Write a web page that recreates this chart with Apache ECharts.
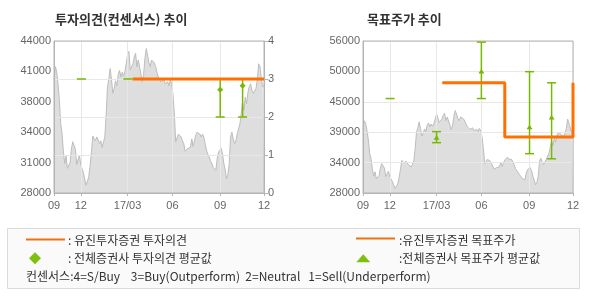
<!DOCTYPE html>
<html>
<head>
<meta charset="utf-8">
<script src="https://cdn.jsdelivr.net/npm/echarts@6/dist/echarts.min.js"></script>
<style>
html,body{margin:0;padding:0;background:#fff;}
#chart{width:590px;height:300px;}
</style>
</head>
<body>
<div id="chart"></div>
<script>
// ---- data ----
const xTickPos = [0, 20, 55, 88.5, 124.25, 157];
const xTickLabels = ['09', '12', '17/03', '06', '09', '12'];

const price = [
39800,41300,40800,39500,37800,35300,34300,32400,31100,31900,
30600,30700,31200,32600,33400,33300,32600,31000,31500,32000,
31000,30900,30100,30300,28800,28600,29700,30900,32300,34000,
33900,33500,33900,33600,33200,33500,32800,32700,33900,36200,
39200,40000,41100,39900,38500,39000,39800,39300,40500,40900,
40200,40700,40300,40800,41600,42600,42900,41000,41300,41600,
42300,42700,41300,42000,42100,40500,39700,40500,42200,43200,
43100,41700,41300,42000,42100,41700,41300,40700,40200,40000,
39700,39900,40000,39500,39300,39700,39300,39900,39500,38300,
36200,33400,33600,34200,34400,33900,33500,33200,32400,32500,
32700,32500,32800,33700,32900,33500,34100,34400,34600,34200,
33900,34200,33900,33200,32500,32100,31800,31400,31100,30700,
30900,30400,31600,32300,32100,32700,32100,31100,30400,29500,
29900,31100,33900,34400,33700,33200,33500,34200,34400,35300,
36400,37600,36700,38100,37400,38600,39200,39500,38800,38500,
38400,39000,39900,41600,41300,40000,39200,39200
];

const priceTicksLeft = ['28000', '31000', '34000', '38000', '41000', '44000'];
const opinionTicks = ['0', '1', '2', '3', '4'];
const priceTicksRight = ['28000', '34000', '39000', '45000', '50000', '56000'];

// Eugene opinion (x index, opinion)
const eugeneOpinion = [[58.75, 3], [157, 3]];
// consensus opinion: x index, low, high, average
const consensusOpinion = [
  [20.5, 3, 3, null],
  [55.25, 3, 3, null],
  [124.25, 2, 3, 2.72],
  [141, 2, 3, 2.82]
];
// Eugene target price (step line)
const eugeneTarget = [[59.25, 48300], [106, 48300], [106, 38300], [157, 38300], [157, 48300]];
// consensus target price: x index, low, high, average
const consensusTarget = [
  [20.25, 45400, 45400, null],
  [55, 37270, 39300, 38190],
  [88.5, 45400, 55800, 50400],
  [124.5, 35250, 50350, 40100],
  [141, 34300, 48300, 41900]
];

// ---- styles ----
const ORANGE = '#ff7000';
const GREEN = '#76b900';
const GRIDC = '#e8e8e8';
const AXISC = '#b4b4b4';
const LBL = {color: '#666', fontSize: 11, fontFamily: 'Liberation Sans'};
const KR = 'Noto Sans CJK KR';

const priceData = price.map((v, i) => [i, v]);
const toDash = arr => arr.map(r => r.map(v => (v === null ? '-' : v)));

function errorBarRender(markerType) {
  return function (params, api) {
    const x = api.value(0), lo = api.value(1), hi = api.value(2), avg = api.value(3);
    const pl = api.coord([x, lo]);
    const ph = api.coord([x, hi]);
    const hw = 4.5;
    const st = {stroke: GREEN, lineWidth: 1.5};
    const children = [];
    if (Math.abs(pl[1] - ph[1]) > 0.5) {
      children.push({type: 'line', shape: {x1: pl[0], y1: ph[1], x2: pl[0], y2: pl[1]}, style: st});
      children.push({type: 'line', shape: {x1: ph[0] - hw, y1: ph[1], x2: ph[0] + hw, y2: ph[1]}, style: st});
    }
    children.push({type: 'line', shape: {x1: pl[0] - hw, y1: pl[1], x2: pl[0] + hw, y2: pl[1]}, style: st});
    if (!isNaN(avg)) {
      const pa = api.coord([x, avg]);
      let pts;
      if (markerType === 'diamond') {
        pts = [[pa[0], pa[1] - 3], [pa[0] + 3, pa[1]], [pa[0], pa[1] + 3], [pa[0] - 3, pa[1]]];
      } else {
        pts = [[pa[0] - 3, pa[1] + 2], [pa[0] + 3, pa[1] + 2], [pa[0], pa[1] - 2.5]];
      }
      children.push({type: 'polygon', shape: {points: pts}, style: {fill: GREEN}});
    }
    return {type: 'group', children: children};
  };
}

function xAxisDef(gi) {
  return {
    type: 'value', gridIndex: gi, min: 0, max: 157, z: 3,
    axisLine: {show: true, lineStyle: {color: AXISC}},
    axisTick: {show: true, customValues: xTickPos, length: 3, lineStyle: {color: AXISC}},
    axisLabel: {
      customValues: xTickPos, margin: 7, ...LBL,
      formatter: function (v) {
        let best = 0, d = 1e9;
        xTickPos.forEach((p, i) => { if (Math.abs(p - v) < d) { d = Math.abs(p - v); best = i; } });
        return xTickLabels[best];
      }
    },
    splitLine: {show: true, lineStyle: {color: GRIDC}}
  };
}

const chart = echarts.init(document.getElementById('chart'), null, {renderer: 'canvas'});
chart.setOption({
  animation: false,
  backgroundColor: '#fff',
  title: [
    {text: '투자의견(컨센서스) 추이', left: 55, top: 13, padding: 0,
     textStyle: {fontSize: 13, fontWeight: 'bold', color: '#333', fontFamily: KR}},
    {text: '목표주가 추이', left: 367, top: 13, padding: 0,
     textStyle: {fontSize: 13, fontWeight: 'bold', color: '#333', fontFamily: KR}}
  ],
  grid: [
    {left: 54, top: 41, width: 210, height: 152, show: true, borderColor: AXISC, borderWidth: 1, backgroundColor: 'transparent', z: 4},
    {left: 363, top: 41, width: 210, height: 152, show: true, borderColor: AXISC, borderWidth: 1, backgroundColor: 'transparent', z: 4}
  ],
  xAxis: [xAxisDef(0), xAxisDef(1)],
  yAxis: [
    {type: 'value', gridIndex: 0, min: 28000, max: 44000, interval: 3200, z: 3,
     axisLine: {show: true, lineStyle: {color: AXISC}}, axisTick: {show: false},
     axisLabel: {...LBL, margin: 3, formatter: (v, i) => priceTicksLeft[i]},
     splitLine: {show: false}},
    {type: 'value', gridIndex: 0, position: 'right', min: 0, max: 4, interval: 1, z: 3,
     axisLine: {show: true, lineStyle: {color: AXISC}},
     axisTick: {show: true, length: 4, lineStyle: {color: AXISC}},
     axisLabel: {...LBL, margin: 4, formatter: (v, i) => opinionTicks[i]},
     splitLine: {show: true, lineStyle: {color: GRIDC}}},
    {type: 'value', gridIndex: 1, min: 28000, max: 56000, interval: 5600, z: 3,
     axisLine: {show: true, lineStyle: {color: AXISC}}, axisTick: {show: false},
     axisLabel: {...LBL, margin: 3, formatter: (v, i) => priceTicksRight[i]},
     splitLine: {show: true, lineStyle: {color: GRIDC}}}
  ],
  series: [
    {type: 'line', xAxisIndex: 0, yAxisIndex: 0, data: priceData, showSymbol: false, silent: true, z: 1,
     lineStyle: {color: '#bdbdbd', width: 1}, areaStyle: {color: '#dedede', opacity: 1}},
    {type: 'line', xAxisIndex: 1, yAxisIndex: 2, data: priceData, showSymbol: false, silent: true, z: 1,
     lineStyle: {color: '#bdbdbd', width: 1}, areaStyle: {color: '#dedede', opacity: 1}},
    {type: 'custom', xAxisIndex: 0, yAxisIndex: 1, z: 5, silent: true,
     renderItem: errorBarRender('diamond'), data: toDash(consensusOpinion)},
    {type: 'custom', xAxisIndex: 1, yAxisIndex: 2, z: 5, silent: true,
     renderItem: errorBarRender('triangle'), data: toDash(consensusTarget)},
    {type: 'line', xAxisIndex: 0, yAxisIndex: 1, data: eugeneOpinion, showSymbol: false, silent: true, z: 6,
     lineStyle: {color: ORANGE, width: 3}},
    {type: 'line', xAxisIndex: 1, yAxisIndex: 2, data: eugeneTarget, showSymbol: false, silent: true, z: 6,
     lineStyle: {color: ORANGE, width: 3}}
  ],
  graphic: [
    {type: 'rect', shape: {x: 7.5, y: 228.5, width: 572, height: 60}, style: {fill: '#fafafa', stroke: '#dadada', lineWidth: 1}, z: 0},
    {type: 'line', shape: {x1: 26, y1: 239.5, x2: 65, y2: 239.5}, style: {stroke: '#f07010', lineWidth: 2}},
    {type: 'text', x: 68, y: 240, style: {text: ': 유진투자증권 투자의견', fill: '#333', font: '12px "Noto Sans CJK KR"', verticalAlign: 'middle'}},
    {type: 'polygon', shape: {points: [[35, 252.3], [41, 258.3], [35, 264.3], [29, 258.3]]}, style: {fill: '#7dc10e'}},
    {type: 'text', x: 68, y: 258.5, style: {text: ': 전체증권사 투자의견 평균값', fill: '#333', font: '12px "Noto Sans CJK KR"', verticalAlign: 'middle'}},
    {type: 'text', x: 26, y: 276.5, style: {text: '컨센서스:4=S/Buy    3=Buy(Outperform)  2=Neutral   1=Sell(Underperform)', fill: '#333', font: '12px "Noto Sans CJK KR"', verticalAlign: 'middle'}},
    {type: 'line', shape: {x1: 356, y1: 238.5, x2: 395, y2: 238.5}, style: {stroke: '#f07010', lineWidth: 2}},
    {type: 'text', x: 399, y: 240, style: {text: ':유진투자증권 목표주가', fill: '#333', font: '12px "Noto Sans CJK KR"', verticalAlign: 'middle'}},
    {type: 'polygon', shape: {points: [[356.3, 262.3], [370.3, 262.3], [363.3, 254.3]]}, style: {fill: '#7dc10e'}},
    {type: 'text', x: 399, y: 258.5, style: {text: ':전체증권사 목표주가 평균값', fill: '#333', font: '12px "Noto Sans CJK KR"', verticalAlign: 'middle'}}
  ]
});
</script>
</body>
</html>
